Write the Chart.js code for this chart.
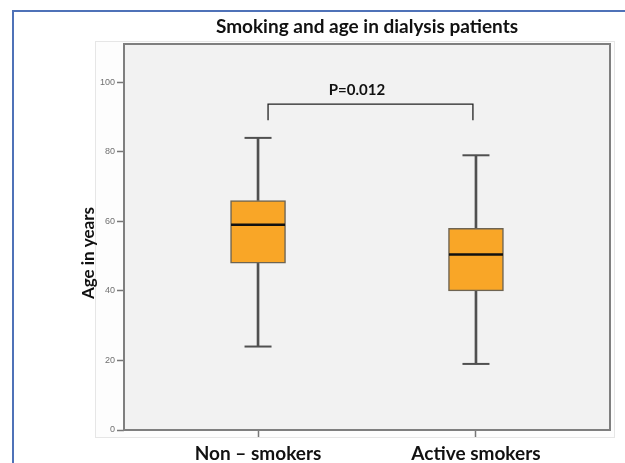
<!DOCTYPE html>
<html>
<head>
<meta charset="utf-8">
<script src="https://cdn.jsdelivr.net/npm/chart.js@4.4.1/dist/chart.umd.min.js"></script>
<style>
html,body{margin:0;padding:0;background:#fff;}
#wrap{position:relative;width:625px;height:463px;overflow:hidden;}
#edge{position:absolute;left:12px;top:10px;right:-5px;bottom:-5px;border-top:2px solid #4f72b8;border-left:2px solid #4f72b8;}
canvas{position:absolute;left:0;top:0;}
</style>
</head>
<body>
<div id="wrap">
<div id="edge"></div>
<canvas id="chart" width="625" height="463"></canvas>
</div>
<script>
// box plot values
const groups = ["Non – smokers", "Active smokers"];
const whiskerLow = [24, 19];
const q1 = [48, 40];
const median = [59, 50.5];
const q3 = [66, 58];
const whiskerHigh = [84, 79];

const yTicks = [0, 20, 40, 60, 80, 100];

// significance bracket between the two groups
const bracketX = [0.046, 0.046, 0.986, 0.986];
const bracketY = [89.1, 93.7, 93.7, 89.1];
const pText = "P=0.012";
const pPos = {x: 0.454, y: 97.8};

const boxes = groups.map((g, i) => ({x: i, y: [q1[i], q3[i]]}));
const lowWhisk = groups.map((g, i) => ({x: i, y: [whiskerLow[i], q1[i]]}));
const highWhisk = groups.map((g, i) => ({x: i, y: [q3[i], whiskerHigh[i]]}));
const caps = groups.map((g, i) => ({x: i, y: whiskerLow[i]}))
    .concat(groups.map((g, i) => ({x: i, y: whiskerHigh[i]})));
const meds = groups.map((g, i) => ({x: i, y: median[i]}));
const bracket = bracketX.map((x, i) => ({x: x, y: bracketY[i]}));

const backdrop = {
    id: "backdrop",
    beforeDraw(c) {
        const ctx = c.ctx, a = c.chartArea;
        ctx.save();
        // light outer panel
        ctx.fillStyle = "#fdfdfd";
        ctx.fillRect(a.left - 29, a.top - 3, a.width + 34, a.height + 11);
        ctx.strokeStyle = "#e6e6e6";
        ctx.lineWidth = 1;
        ctx.strokeRect(a.left - 28.5, a.top - 2.5, a.width + 33, a.height + 10);
        // plot background
        ctx.fillStyle = "#f2f2f2";
        ctx.fillRect(a.left, a.top, a.width, a.height);
        ctx.restore();
    },
    afterDraw(c) {
        const ctx = c.ctx, a = c.chartArea;
        ctx.save();
        ctx.strokeStyle = "#7f7f7f";
        ctx.lineWidth = 2;
        ctx.strokeRect(a.left, a.top, a.width, a.height);

        ctx.fillStyle = "#111";
        ctx.font = "bold 15px Lato";
        ctx.textAlign = "center";
        ctx.textBaseline = "middle";
        ctx.fillText(pText, c.scales.x.getPixelForValue(pPos.x), c.scales.y.getPixelForValue(pPos.y));

        // y axis title
        ctx.font = "bold 17px Lato";
        ctx.translate(a.left - 35, (a.top + a.bottom) / 2 + 16);
        ctx.rotate(-Math.PI / 2);
        ctx.fillText("Age in years", 0, 0);
        ctx.restore();
    }
};

const chart = new Chart(
    document.getElementById("chart"),
    {
        type: "bar",
        data: {
            datasets: [
                {
                    data: boxes,
                    backgroundColor: "#f9a627",
                    borderColor: "#6e6452",
                    borderWidth: 1.5,
                    borderSkipped: false,
                    barThickness: 55,
                    grouped: false,
                    order: 3
                },
                {
                    data: lowWhisk,
                    backgroundColor: "#505050",
                    barThickness: 2,
                    grouped: false,
                    order: 4
                },
                {
                    data: highWhisk,
                    backgroundColor: "#505050",
                    barThickness: 2,
                    grouped: false,
                    order: 4
                },
                {
                    type: "line",
                    data: caps,
                    showLine: false,
                    pointStyle: "line",
                    pointRadius: 13.5,
                    pointBorderWidth: 2,
                    pointBorderColor: "#505050",
                    order: 1
                },
                {
                    type: "line",
                    data: meds,
                    showLine: false,
                    pointStyle: "line",
                    pointRadius: 27,
                    pointBorderWidth: 2.5,
                    pointBorderColor: "#111",
                    order: 0
                },
                {
                    type: "line",
                    data: bracket,
                    borderColor: "#222",
                    borderWidth: 1.3,
                    pointRadius: 0,
                    tension: 0,
                    order: 0
                }
            ]
        },
        options: {
            responsive: false,
            animation: false,
            layout: {
                autoPadding: false,
                padding: {left: 0, right: 15, top: 0, bottom: 0}
            },
            plugins: {
                legend: {display: false},
                tooltip: {enabled: false},
                title: {
                    display: true,
                    fullSize: false,
                    text: "Smoking and age in dialysis patients",
                    color: "#111",
                    font: {family: "Lato", size: 19, weight: "bold"},
                    padding: {top: 15.6, bottom: 5.6}
                }
            },
            scales: {
                x: {
                    type: "linear",
                    min: -0.615,
                    max: 1.615,
                    offset: false,
                    afterBuildTicks: s => { s.ticks = groups.map((g, i) => ({value: i})); },
                    afterFit: s => {
                        s.height = 33;
                        s.paddingLeft = 0;
                        s.paddingRight = 0;
                    },
                    grid: {
                        offset: false,
                        drawOnChartArea: false,
                        tickLength: 7,
                        tickColor: "#777",
                        tickWidth: 1.5
                    },
                    border: {display: false},
                    ticks: {
                        padding: 5,
                        color: "#111",
                        font: {family: "Lato", size: 19, weight: "bold"},
                        maxRotation: 0,
                        callback: v => groups[v]
                    }
                },
                y: {
                    min: 0,
                    max: 111,
                    afterBuildTicks: s => { s.ticks = yTicks.map(v => ({value: v})); },
                    afterFit: s => { s.width = 124; },
                    grid: {
                        drawOnChartArea: false,
                        tickLength: 7,
                        tickColor: "#777",
                        tickWidth: 1.5
                    },
                    border: {display: false},
                    ticks: {
                        padding: 2,
                        color: "#707070",
                        font: {family: "Liberation Sans", size: 9}
                    }
                }
            }
        },
        plugins: [backdrop]
    }
);
</script>
</body>
</html>
